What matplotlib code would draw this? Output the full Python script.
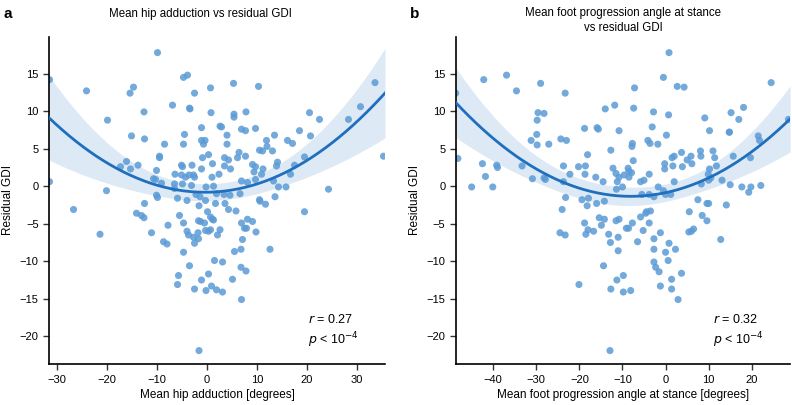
import numpy as np
import matplotlib.pyplot as plt

plt.rcParams['font.family'] = ['Liberation Sans', 'DejaVu Sans']

# panel a: mean hip adduction [deg] vs residual GDI
hip_x = [-9.9, -31.5, -24.1, -14.7, -15.4, -4.7, -3.9, -2.5, 0.7, -6.9, -3.5, -3.4, -12.6, 0.8,
         -19.9, -1.1, 2.6, -15.1, -12.5, -4.5, -4.7, -8.5, -1.1, -0.4, -0.7, -9.5, -9.5, 0.3,
         -0.9, 1.1, -16.1, -17.3, -15.3, -13.8, -10.1, -5.1, -4.9, -3.0, -1.1, -6.4, -5.1, -4.3,
         -3.6, -2.7, -2.5, 1.0, 2.4, -10.7, -10.3, -31.5, -9.1, -6.5, -4.9, -3.1, -6.5, -0.2,
         1.3, -20.1, -10.1, -9.9, -5.9, -4.0, -2.2, -1.4, 1.9,
         33.6, 5.3, 10.3, 5.4, 5.4, 7.8, 20.5, 22.5, 28.3, 30.7, 2.9, 6.9, 7.7, 9.7, 4.0, 13.5,
         18.5, 20.7, 4.0, 11.9, 16.1, 17.1, 12.0, 10.5, 11.1, 13.1, 6.4, 3.5, 4.3, 6.1, 7.7,
         19.5, 3.5, 4.7, 9.1, 9.7, 11.2, 14.1, 13.9, 17.5, 9.4, 10.9, 16.7, 6.9, 8.1, 9.7, 13.3,
         14.3, 15.8, 24.3, 3.4, 4.6, 6.6, 13.6, 10.5, 35.3,
         -26.7, -21.4, -12.5, -14.1, -13.1, -12.6, -1.6, -0.3, 1.7, -5.5, -4.7, -7.8, 0.1, 0.7,
         1.1, -1.7, -1.3, -0.5, -4.0, -3.7, -1.8, -2.7, -1.7, -2.5, -0.3, 0.3, 0.7, 2.1, 2.6,
         -11.1, -8.7, -8.0, -4.7, -3.5, 1.5, -5.7, -5.9, -2.5, -1.1, 0.3, 0.9, -0.2, 1.9, -1.6,
         19.5, 3.6, 4.3, 5.8, 10.6, 11.7, 1.3, 6.9, 8.1, 9.1, 7.5, 7.9, 9.8, 7.1, 5.5, 6.8,
         12.6, 3.1, 6.8, 7.8, 5.1, 3.1, 6.9]
hip_y = [17.8, 14.2, 12.7, 13.2, 12.4, 14.5, 14.8, 12.4, 13.1, 10.8, 10.4, 10.3, 9.9, 9.8,
         8.8, 7.8, 8.0, 6.7, 6.3, 6.9, 5.6, 5.6, 6.1, 6.1, 5.6, 4.0, 3.8, 4.2,
         3.8, 3.0, 3.3, 2.6, 2.3, 2.8, 2.1, 2.8, 2.6, 2.8, 2.3, 1.6, 1.5, 1.2,
         1.5, 1.5, 1.2, 1.2, 1.6, 1.0, 0.9, 0.6, 0.4, 0.3, 0.3, 0.1, -0.3, -0.1,
         0.0, -0.6, -1.2, -1.5, -1.6, -1.9, -1.1, -1.4, -1.0,
         13.8, 13.7, 13.3, 9.6, 9.2, 9.9, 9.8, 8.9, 8.9, 10.6, 7.9, 7.6, 7.4, 7.7, 6.8, 6.8,
         7.4, 6.7, 5.6, 6.1, 6.1, 5.7, 5.3, 4.8, 4.7, 4.7, 4.5, 3.8, 3.5, 3.8, 4.0,
         3.9, 2.7, 2.3, 2.9, 2.6, 2.3, 3.2, 2.7, 2.8, 1.9, 1.6, 1.6, 0.7, 0.5, 0.9, 0.7,
         -0.1, -0.1, -0.4, -1.1, -1.2, -1.0, -1.4, -1.8, 4.0,
         -3.1, -6.4, -2.3, -3.6, -3.9, -4.2, -2.6, -1.9, -2.3, -3.9, -4.9, -5.2, -3.4, -4.1,
         -4.4, -4.6, -4.7, -4.9, -6.0, -6.5, -6.2, -6.8, -7.0, -7.6, -5.9, -6.0, -5.8, -6.5, -5.8,
         -6.2, -7.4, -7.7, -8.8, -10.6, -9.9, -11.9, -13.1, -13.7, -12.5, -11.7, -13.3, -13.9, -13.8, -21.9,
         -3.4, -2.3, -3.1, -3.3, -2.0, -2.4, -4.5, -4.9, -4.4, -4.7, -5.6, -5.6, -6.1, -7.1, -8.7, -8.4,
         -8.4, -10.1, -10.8, -11.3, -12.4, -14.1, -15.1]

# panel b: mean foot progression angle at stance [deg] vs residual GDI
fpa_x = [-48.7, -42.2, -36.9, -34.6, -29.0, -23.3, -14.0, -11.8, -29.6, -28.2, -29.8, -18.8,
         -15.9, -15.6, -10.8, -29.9, -31.2, -29.8, -27.1, -24.3, -23.0, -12.7, -18.1, -48.2,
         -42.5, -39.2, -39.0, -41.8, -33.3, -23.7, -20.2, -18.6, -22.2, -18.7, -16.2, -14.5,
         -12.2, -11.5, -10.8, -11.2, -30.9, -28.2, -27.9, -23.7, -45.0, -40.1, -23.2, -19.4,
         -17.9, -14.2,
         0.8, -0.5, 2.7, 4.3, -7.2, 24.5, -7.4, -2.8, 0.7, 9.1, 15.2, 18.1, 17.0, -3.1, 0.2,
         10.2, 14.8, 14.8, 21.5, 21.8, 28.5, -7.7, -7.8, -4.1, -3.6, -1.8, -7.5, 1.5, 2.0, 3.7,
         5.9, 5.0, 6.1, 8.1, 8.2, 11.0, 11.4, 15.7, 19.7, -0.2, -0.2, 1.7, 3.9, 11.8, 10.2, 9.9,
         -8.7, -8.5, -8.5, -9.6, -7.9, -3.8, -10.0, -11.4, -5.8, -5.0, 2.0, -1.7, -0.5, -2.7,
         8.3, 10.0, 10.5, 13.1, 15.0, 17.7, 19.8, 19.3, 22.1, -5.5, -3.8, 0.0, 1.2, 7.5,
         -24.0, -24.5, -23.3, -18.2, -16.0, -18.8, -18.0, -18.5, -16.7, -15.4, -14.2, -14.9,
         -11.5, -10.8, -13.2, -12.8, -11.0, -11.0, -14.4, -20.1, -12.7, -11.3, -12.9,
         9.6, 10.0, 14.1, 5.5, 8.5, 9.6, 5.4, 6.0, 6.5, 12.8, -9.1, -8.6, -7.7, -5.8, -4.6,
         -3.5, -4.4, -3.8, -5.2, -2.7, -1.2, -6.5, -2.7, 0.0, 0.8, 2.3, 0.6, -2.7, -2.3, -1.5,
         3.7, 1.4, -1.2, 1.4, 2.9, -9.8, -9.8, -8.1]
fpa_y = [12.4, 14.2, 14.8, 12.7, 13.7, 12.4, 10.3, 10.8, 9.8, 9.7, 8.8, 7.7,
         7.8, 7.6, 7.4, 6.9, 6.1, 5.5, 5.6, 6.3, 6.1, 4.8, 4.2, 3.7,
         3.0, 2.8, 2.5, 1.3, 2.7, 2.7, 2.6, 2.7, 1.6, 1.6, 1.2, 0.6,
         2.4, 1.7, 1.2, 0.6, 1.0, 1.1, 0.9, 0.6, -0.1, -0.1, -1.5, -1.8,
         -1.6, -2.0,
         17.8, 14.5, 13.3, 13.2, 13.1, 13.8, 10.4, 9.9, 9.5, 9.1, 9.8, 10.5, 8.9, 7.9, 6.8,
         7.4, 7.2, 7.2, 6.7, 6.1, 8.9, 5.7, 5.3, 6.1, 5.7, 5.6, 3.4, 3.8, 4.0, 4.5,
         4.0, 3.5, 3.0, 4.7, 4.0, 4.7, 3.8, 4.0, 3.8, 3.0, 2.3, 2.7, 2.6, 2.7, 2.3, 1.6,
         2.4, 2.0, 1.2, 1.5, 1.8, 1.6, -0.1, -0.4, 0.6, 0.8, 0.6, -0.1, -0.6, -1.4,
         0.3, 0.8, 1.1, 0.8, 0.2, -0.1, -0.1, -0.8, 0.1, -1.1, -1.1, -1.1, -1.1, -1.8,
         -3.1, -6.2, -6.5, -2.6, -2.3, -4.9, -5.8, -6.4, -6.0, -4.2, -4.4, -5.2,
         -4.6, -4.4, -6.4, -7.5, -6.8, -8.6, -10.6, -13.1, -13.7, -12.5, -21.9,
         -2.3, -2.3, -2.5, -3.4, -3.9, -4.6, -6.1, -6.0, -5.7, -7.1, -5.6, -5.6, -4.9, -4.1, -3.6,
         -3.3, -3.4, -4.9, -5.9, -7.0, -6.2, -7.4, -8.4, -8.8, -7.6, -8.4, -9.9, -10.1, -10.8, -11.4,
         -11.6, -12.4, -13.3, -13.7, -15.1, -11.9, -14.1, -13.9]

titles = ['Mean hip adduction vs residual GDI',
          'Mean foot progression angle at stance\nvs residual GDI']
xlabels = ['Mean hip adduction [degrees]', 'Mean foot progression angle at stance [degrees]']
r_vals = ['0.27', '0.32']
panel_tags = ['a', 'b']
xlims = [(-31.6, 35.6), (-48.7, 28.9)]
xticks = [[-30, -20, -10, 0, 10, 20, 30], [-40, -30, -20, -10, 0, 10, 20]]

pt_col = '#5b9bd5'
line_col = '#1f6fbf'


def quad_fit(x, y, xs):
    # order-2 OLS with a 95% confidence band
    x = np.asarray(x)
    y = np.asarray(y)
    X = np.vstack([np.ones_like(x), x, x ** 2]).T
    beta, res, rk, sv = np.linalg.lstsq(X, y, rcond=None)
    resid = y - X @ beta
    dof = len(x) - 3
    s2 = resid @ resid / dof
    cov = s2 * np.linalg.inv(X.T @ X)
    Xs = np.vstack([np.ones_like(xs), xs, xs ** 2]).T
    yhat = Xs @ beta
    se = np.sqrt(np.einsum('ij,jk,ik->i', Xs, cov, Xs))
    return yhat, 1.97 * se


fig = plt.figure(figsize=(7.92, 4.05), dpi=100)
boxes = [[0.0619, 0.101, 0.4242, 0.808], [0.5754, 0.101, 0.4222, 0.808]]
data = [(hip_x, hip_y), (fpa_x, fpa_y)]
title_x = [0.452, 0.5]
title_pad = [14, 4]

for i in range(2):
    ax = fig.add_axes(boxes[i])
    xv, yv = data[i]
    ax.scatter(xv, yv, s=26, color=pt_col, alpha=0.85, edgecolor='none', zorder=2)
    xs = np.linspace(xlims[i][0], xlims[i][1], 200)
    yhat, band = quad_fit(xv, yv, xs)
    ax.fill_between(xs, yhat - band, yhat + band, color=line_col, alpha=0.15, lw=0, zorder=1)
    ax.plot(xs, yhat, color=line_col, lw=2, zorder=3)
    ax.set_xlim(xlims[i])
    ax.set_ylim(-23.7, 19.9)
    ax.set_xticks(xticks[i])
    ax.set_yticks([-20, -15, -10, -5, 0, 5, 10, 15])
    ax.spines['top'].set_visible(False)
    ax.spines['right'].set_visible(False)
    ax.spines['left'].set_linewidth(1.2)
    ax.spines['bottom'].set_linewidth(1.2)
    ax.tick_params(labelsize=8, length=4, width=1, color='#333333')
    ax.set_xlabel(xlabels[i], fontsize=8.5, labelpad=3)
    ax.set_ylabel('Residual GDI', fontsize=8.5, labelpad=4)
    ax.set_title(titles[i], fontsize=8.3, x=title_x[i], pad=title_pad[i], linespacing=1.35)
    ax.text(0.77, 0.125, '$r$ = ' + r_vals[i], transform=ax.transAxes, fontsize=9)
    ax.text(0.77, 0.062, '$p$ < 10$^{-4}$', transform=ax.transAxes, fontsize=9)
    fig.text(boxes[i][0] - 0.058, 0.955, panel_tags[i], fontsize=11, fontweight='bold')

fig.savefig('out.png', dpi=100)
